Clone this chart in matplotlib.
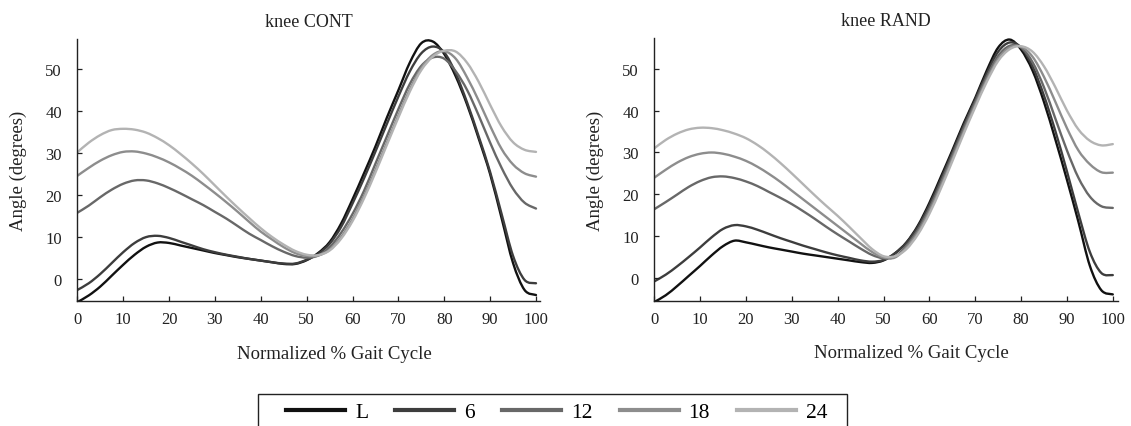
import matplotlib
matplotlib.use("Agg")
import matplotlib.pyplot as plt
from matplotlib.patches import Rectangle, PathPatch
from matplotlib.path import Path
from matplotlib.lines import Line2D

plt.rcParams['font.family'] = ['Liberation Serif', 'DejaVu Serif']

# Normalized gait cycle (%)
gait_pct = [i * 2.5 for i in range(41)]

# Knee angle (degrees), CONT condition
cont_L = [-5.5, -3.9, -1.8, 0.8, 3.4, 5.8, 7.7, 8.7, 8.6, 8.0, 7.4, 6.8, 6.2, 5.7, 5.2, 4.8,
          4.4, 4.0, 3.6, 3.6, 4.5, 6.2, 8.8, 13.2, 19.0, 25.2, 31.6, 38.5, 45.0, 51.6, 56.2,
          56.6, 53.6, 48.3, 41.5, 33.5, 25.0, 14.5, 3.8, -2.6, -3.8]
cont_6 = [-2.6, -1.0, 1.2, 3.8, 6.4, 8.6, 10.0, 10.3, 9.8, 8.9, 8.0, 7.1, 6.4, 5.8, 5.3, 4.8,
          4.4, 4.0, 3.7, 3.7, 4.6, 6.0, 8.4, 12.4, 18.0, 24.0, 30.4, 37.0, 43.5, 49.5, 53.8,
          55.4, 54.0, 49.0, 42.0, 34.0, 25.5, 15.5, 5.5, -0.2, -1.0]
cont_12 = [15.8, 17.5, 19.5, 21.3, 22.7, 23.5, 23.5, 22.8, 21.7, 20.4, 19.0, 17.6, 16.0, 14.4,
           12.6, 10.8, 9.3, 7.8, 6.5, 5.5, 5.1, 5.6, 7.6, 11.0, 15.5, 21.0, 27.5, 34.0, 40.5,
           46.5, 50.8, 52.8, 52.5, 49.5, 45.0, 39.0, 32.5, 26.5, 21.5, 18.2, 16.8]
cont_18 = [24.6, 26.5, 28.2, 29.5, 30.3, 30.4, 29.9, 29.0, 27.8, 26.3, 24.6, 22.6, 20.5, 18.3,
           16.0, 13.6, 11.3, 9.4, 7.6, 6.2, 5.5, 5.6, 7.0, 10.0, 14.3, 19.8, 26.0, 32.5, 39.0,
           45.2, 50.3, 53.4, 54.3, 52.5, 48.0, 42.5, 36.5, 31.0, 27.3, 25.2, 24.4]
cont_24 = [30.2, 32.5, 34.3, 35.5, 35.8, 35.6, 34.9, 33.6, 31.9, 29.8, 27.5, 25.0, 22.3, 19.6,
           17.0, 14.5, 12.1, 10.0, 8.2, 6.7, 5.8, 5.7, 6.8, 9.6, 13.8, 19.2, 25.4, 32.0, 38.5,
           44.7, 49.8, 53.0, 54.4, 54.2, 51.5, 47.0, 41.5, 36.3, 32.6, 30.8, 30.3]

# Knee angle (degrees), RAND condition
rand_L = [-5.6, -4.0, -1.8, 0.6, 3.0, 5.5, 7.7, 9.0, 8.6, 8.0, 7.4, 6.9, 6.4, 5.9, 5.5, 5.1,
          4.7, 4.3, 3.9, 3.7, 4.3, 6.0, 8.6, 12.6, 18.0, 24.2, 30.5, 37.0, 43.0, 49.5, 55.0,
          56.9, 54.5, 49.5, 42.0, 33.0, 23.5, 13.5, 3.0, -2.8, -3.8]
rand_6 = [-0.7, 0.9, 2.9, 5.1, 7.4, 9.8, 11.8, 12.7, 12.4, 11.6, 10.6, 9.6, 8.7, 7.8, 7.0, 6.2,
          5.5, 4.9, 4.3, 4.0, 4.4, 6.0, 8.5, 12.3, 17.5, 23.6, 30.0, 36.5, 42.6, 48.8, 54.0,
          56.2, 55.0, 50.5, 43.5, 35.0, 25.5, 15.5, 6.3, 1.3, 0.8]
rand_12 = [16.5, 18.2, 20.0, 21.8, 23.2, 24.1, 24.3, 23.9, 23.1, 22.0, 20.6, 19.2, 17.7, 16.0,
           14.2, 12.3, 10.5, 8.8, 7.1, 5.6, 4.8, 5.2, 7.8, 11.6, 16.7, 22.8, 29.3, 35.8, 42.0,
           48.0, 53.0, 55.4, 55.0, 51.5, 45.5, 38.0, 30.5, 24.0, 19.5, 17.2, 16.8]
rand_18 = [24.0, 25.9, 27.6, 28.9, 29.7, 30.0, 29.7, 29.0, 28.0, 26.6, 24.9, 23.0, 20.9, 18.8,
           16.7, 14.6, 12.5, 10.4, 8.3, 6.3, 5.0, 5.0, 7.4, 11.0, 16.0, 22.0, 28.5, 35.0, 41.3,
           47.3, 52.3, 55.0, 55.2, 52.8, 48.0, 42.0, 35.8, 30.5, 27.2, 25.3, 25.2]
rand_24 = [31.0, 33.0, 34.5, 35.5, 35.9, 35.8, 35.3, 34.5, 33.4, 31.8, 29.8, 27.5, 25.0, 22.4,
           19.8, 17.3, 14.9, 12.3, 9.6, 7.0, 5.3, 5.3, 7.0, 10.5, 15.4, 21.4, 27.9, 34.5, 40.8,
           46.8, 51.8, 54.6, 55.3, 54.0, 50.5, 45.5, 40.0, 35.5, 32.8, 31.7, 32.0]

series_labels = ['L', '6', '12', '18', '24']
series_colors = ['#111111', '#3d3d3d', '#686868', '#8d8d8d', '#b3b3b3']
x_ticks = [0, 10, 20, 30, 40, 50, 60, 70, 80, 90, 100]
y_ticks = [0, 10, 20, 30, 40, 50]

panels = [
    ('knee CONT', [cont_L, cont_6, cont_12, cont_18, cont_24]),
    ('knee RAND', [rand_L, rand_6, rand_12, rand_18, rand_24]),
]


def smooth_path(xs, ys):
    """Cubic Bezier path passing through every sample (Catmull-Rom tangents)."""
    pts = list(zip(xs, ys))
    n = len(pts)
    verts = [pts[0]]
    codes = [Path.MOVETO]
    for i in range(n - 1):
        p0 = pts[i - 1] if i > 0 else pts[i]
        p1 = pts[i]
        p2 = pts[i + 1]
        p3 = pts[i + 2] if i + 2 < n else pts[i + 1]
        c1 = (p1[0] + (p2[0] - p0[0]) / 6, p1[1] + (p2[1] - p0[1]) / 6)
        c2 = (p2[0] - (p3[0] - p1[0]) / 6, p2[1] - (p3[1] - p1[1]) / 6)
        verts += [c1, c2, p2]
        codes += [Path.CURVE4] * 3
    return Path(verts, codes)


W, H = 1131, 427
fig = plt.figure(figsize=(W / 100, H / 100), dpi=100)
fig.patch.set_facecolor('white')

# axes boxes in pixels: (left, right, top, bottom)
boxes = [(77.3, 540.0, 40.0, 302.3), (654.3, 1118.3, 39.3, 301.7)]
xmax = [100.87, 101.2]

for (title, curves), (l, r, t, b), xm in zip(panels, boxes, xmax):
    ax = fig.add_axes([l / W, (H - b) / H, (r - l) / W, (b - t) / H])
    for vals, col in zip(curves, series_colors):
        ax.add_patch(PathPatch(smooth_path(gait_pct, vals), fill=False, edgecolor=col,
                               linewidth=1.7, capstyle='round', joinstyle='round'))
    ax.set_xlim(0, xm)
    ax.set_ylim(-5.3, 57.2)
    ax.set_xticks(x_ticks)
    ax.set_yticks(y_ticks)
    for s in ('top', 'right'):
        ax.spines[s].set_visible(False)
    for s in ('left', 'bottom'):
        ax.spines[s].set_color('#222222')
        ax.spines[s].set_linewidth(1.0)
    ax.tick_params(axis='both', direction='in', length=3.3, width=0.9, colors='#222222',
                   labelsize=12, labelcolor='#222222')
    ax.tick_params(axis='y', pad=11.0)
    ax.tick_params(axis='x', pad=7.2)
    ax.set_title(title, fontsize=13, y=1.05, pad=0, color='#222222')
    ax.set_xlabel('Normalized % Gait Cycle', fontsize=13.5, color='#222222')
    ax.xaxis.set_label_coords(0.555, -0.165)
    ax.set_ylabel('Angle (degrees)', fontsize=13.5, color='#222222')
    ax.yaxis.set_label_coords(-0.108, 0.5)

handles = [Line2D([], [], color=c, linewidth=3.0) for c in series_colors]
fig.legend(handles, series_labels, loc='center', ncol=5, frameon=False,
           bbox_to_anchor=(557 / W, (H - 413) / H), fontsize=15.5,
           handlelength=2.74, handletextpad=0.47, columnspacing=1.25, borderpad=0.0)

# legend frame (open at the bottom edge of the figure)
fig.patches.append(Rectangle((258 / W, -0.2), (847 - 258) / W, 0.2 + (H - 395) / H,
                             transform=fig.transFigure, fill=False,
                             edgecolor='#222222', linewidth=1.0, clip_on=False))

fig.savefig('out.png', dpi=100, facecolor='white')
